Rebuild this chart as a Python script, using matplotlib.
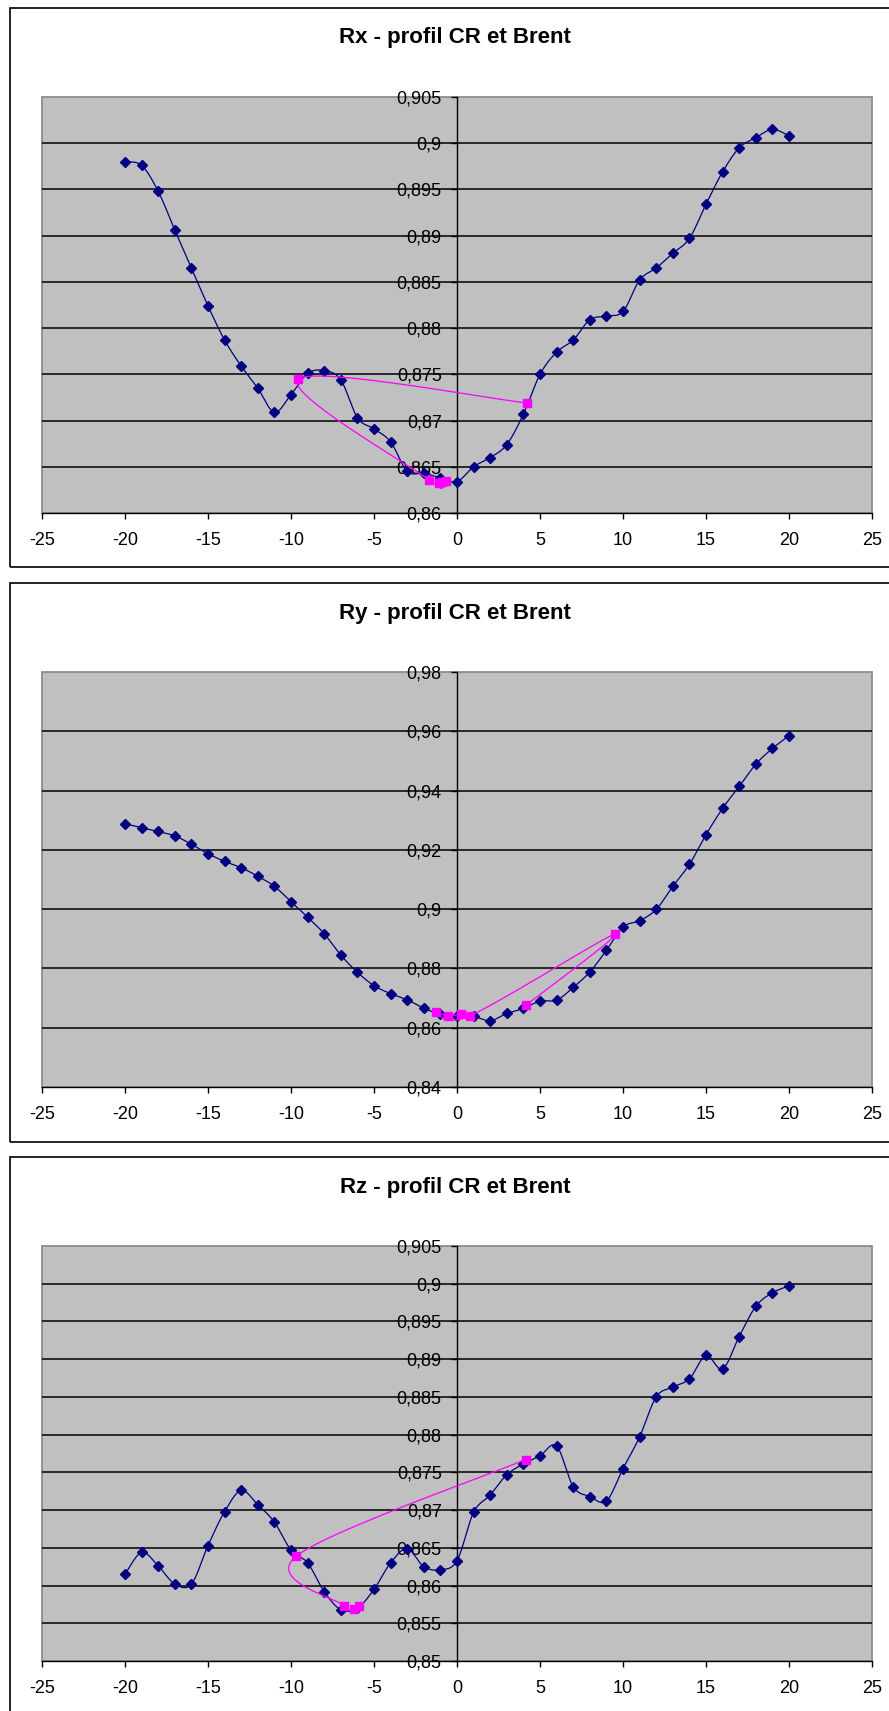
import matplotlib
matplotlib.use("Agg")
import matplotlib.pyplot as plt
from matplotlib.patches import Rectangle
import numpy as np

plt.rcParams['font.family'] = ['Liberation Sans', 'DejaVu Sans']

# --- data ---
pos = [-20, -19, -18, -17, -16, -15, -14, -13, -12, -11, -10, -9, -8, -7, -6, -5, -4, -3, -2, -1,
       0, 1, 2, 3, 4, 5, 6, 7, 8, 9, 10, 11, 12, 13, 14, 15, 16, 17, 18, 19, 20]

rx_cr = [0.8980, 0.8976, 0.8948, 0.8906, 0.8865, 0.8824, 0.8787, 0.8759, 0.8735, 0.8709,
         0.8728, 0.8751, 0.8754, 0.8744, 0.8703, 0.8691, 0.8677, 0.8645, 0.8643, 0.8638,
         0.8634, 0.8650, 0.8660, 0.8674, 0.8707, 0.8750, 0.8774, 0.8787, 0.8809, 0.8813,
         0.8818, 0.8852, 0.8865, 0.8881, 0.8897, 0.8934, 0.8969, 0.8995, 0.9006, 0.9015, 0.9008]
rx_brent_x = [4.23, -9.56, -1.70, -1.10, -0.65, -0.90]
rx_brent_y = [0.8719, 0.8745, 0.8636, 0.8632, 0.8635, 0.8633]

ry_cr = [0.9288, 0.9275, 0.9262, 0.9247, 0.9219, 0.9187, 0.9161, 0.9140, 0.9111, 0.9077,
         0.9025, 0.8973, 0.8917, 0.8845, 0.8787, 0.8742, 0.8715, 0.8694, 0.8666, 0.8645,
         0.8640, 0.8638, 0.8624, 0.8648, 0.8665, 0.8690, 0.8693, 0.8736, 0.8788, 0.8861,
         0.8940, 0.8961, 0.8999, 0.9077, 0.9151, 0.9251, 0.9340, 0.9414, 0.9489, 0.9542, 0.9585]
ry_brent_x = [4.16, 9.49, 0.80, -1.27, -0.56, 0.24]
ry_brent_y = [0.8676, 0.8915, 0.8641, 0.8654, 0.8641, 0.8646]

rz_cr = [0.8615, 0.8644, 0.8626, 0.8602, 0.8602, 0.8653, 0.8698, 0.8726, 0.8707, 0.8684,
         0.8647, 0.8630, 0.8592, 0.8568, 0.8570, 0.8595, 0.8630, 0.8649, 0.8625, 0.8621,
         0.8633, 0.8697, 0.8720, 0.8747, 0.8761, 0.8772, 0.8785, 0.8731, 0.8718, 0.8712,
         0.8755, 0.8797, 0.8850, 0.8863, 0.8874, 0.8905, 0.8887, 0.8930, 0.8970, 0.8988, 0.8997]
rz_brent_x = [4.13, -9.68, -6.80, -6.20, -5.90]
rz_brent_y = [0.8767, 0.8639, 0.8573, 0.8569, 0.8573]

titles = ["Rx - profil CR et Brent", "Ry - profil CR et Brent", "Rz - profil CR et Brent"]
xticks = [-25, -20, -15, -10, -5, 0, 5, 10, 15, 20, 25]
rx_ticks = [0.86, 0.865, 0.87, 0.875, 0.88, 0.885, 0.89, 0.895, 0.9, 0.905]
ry_ticks = [0.84, 0.86, 0.88, 0.9, 0.92, 0.94, 0.96, 0.98]
rz_ticks = [0.85, 0.855, 0.86, 0.865, 0.87, 0.875, 0.88, 0.885, 0.89, 0.895, 0.9, 0.905]


def smooth(x, y, n=24):
    # Catmull-Rom / Bezier smoothing like Excel's "smoothed line"
    p = np.column_stack([x, y]).astype(float)
    out = [p[0]]
    t = np.linspace(0, 1, n)[1:, None]
    for i in range(len(p) - 1):
        p0 = p[i - 1] if i > 0 else p[i]
        p1, p2 = p[i], p[i + 1]
        p3 = p[i + 2] if i + 2 < len(p) else p[i + 1]
        c1 = p1 + (p2 - p0) / 6
        c2 = p2 - (p3 - p1) / 6
        seg = ((1 - t) ** 3) * p1 + 3 * ((1 - t) ** 2) * t * c1 + 3 * (1 - t) * t ** 2 * c2 + t ** 3 * p2
        out.extend(seg)
    out = np.array(out)
    return out[:, 0], out[:, 1]


def fmt(v):
    s = ("%.3f" % v).rstrip("0").rstrip(".")
    return s.replace(".", ",")


W, H = 889, 1711
fig = plt.figure(figsize=(W / 100, H / 100), dpi=100)

panels = [
    # plot top/bottom, frame top/bottom (pixels), data
    (97, 513, 8, 567, rx_cr, rx_brent_x, rx_brent_y, rx_ticks),
    (672, 1087, 583, 1142, ry_cr, ry_brent_x, ry_brent_y, ry_ticks),
    (1246, 1661, 1157, 1730, rz_cr, rz_brent_x, rz_brent_y, rz_ticks),
]

for k, (ptop, pbot, ftop, fbot, cr, bx, by, yt) in enumerate(panels):
    # outer chart frame
    fig.add_artist(Rectangle((10 / W, 1 - fbot / H), 900 / W, (fbot - ftop) / H,
                             transform=fig.transFigure, fill=False, ec='black', lw=1.2))
    fig.text(455 / W, 1 - (ftop + 30) / H, titles[k], ha='center', va='center',
             fontsize=16, fontweight='bold')

    ax = fig.add_axes([42 / W, 1 - pbot / H, (872 - 42) / W, (pbot - ptop) / H])
    ax.set_facecolor('#C0C0C0')
    ax.set_xlim(-25, 25)
    ax.set_ylim(yt[0], yt[-1])
    ax.set_xticks(xticks)
    ax.set_xticklabels([str(v) for v in xticks])
    ax.set_yticks(yt)
    ax.set_yticklabels([fmt(v) for v in yt])

    for v in yt[1:-1]:
        ax.axhline(v, color='black', lw=1.1, zorder=1)

    ax.spines['left'].set_position(('data', 0))
    ax.spines['left'].set_color('black')
    ax.spines['left'].set_linewidth(1.0)
    ax.spines['bottom'].set_color('black')
    ax.spines['bottom'].set_linewidth(1.0)
    ax.spines['top'].set_visible(False)
    ax.spines['right'].set_visible(False)
    ax.add_patch(Rectangle((0, 0), 1, 1, transform=ax.transAxes, fill=False,
                           ec='#8c8c8c', lw=1.3, clip_on=False, zorder=0.9))

    ax.tick_params(axis='y', direction='out', length=4, width=1, pad=7, labelsize=13)
    ax.tick_params(axis='x', direction='out', length=4, width=1, pad=10, labelsize=13)

    sx, sy = smooth(pos, cr)
    ax.plot(sx, sy, color='#000080', lw=0.9, zorder=3)
    ax.plot(pos, cr, ls='none', marker='D', ms=5.5, color='#000080', zorder=4)

    bsx, bsy = smooth(bx, by)
    ax.plot(bsx, bsy, color='#FF00FF', lw=0.9, zorder=5)
    ax.plot(bx, by, ls='none', marker='s', ms=5.5, color='#FF00FF', zorder=6)

fig.savefig("out.png", dpi=100)
